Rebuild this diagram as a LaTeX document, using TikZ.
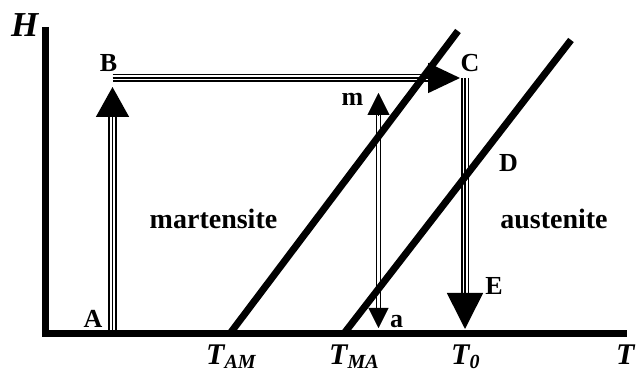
\documentclass[tikz,border=0pt]{standalone}
\usepackage{fontspec}
\setmainfont{Liberation Serif}
\usepackage{tikz}
\usetikzlibrary{arrows.meta,calc}
\newcommand\Tsub[1]{T\raisebox{-4pt}{\fontsize{20}{20}\selectfont #1}}

\begin{document}
\begin{tikzpicture}[
  x=1pt, y=-1pt,
  lbl/.style={font=\fontsize{26}{26}\selectfont\bfseries, inner sep=0pt},
  phase/.style={font=\fontsize{28}{28}\selectfont\bfseries, inner sep=0pt},
  ax/.style={font=\fontsize{30}{30}\selectfont\bfseries\itshape, inner sep=0pt, anchor=base west},
  axisline/.style={line width=7pt, line join=miter},
  bound/.style={line width=7pt},
  rail/.style={line width=8.5pt, postaction={draw=white, line width=5pt}},
  core/.style={line width=1.6pt},
  dbl/.style={double, double distance=2.2pt, line width=1pt},
  tip/.style={line width=0.4pt, -{Triangle[length=#1,width=#1]}},
]
\useasboundingbox (0,0) rectangle (638,374);

% axes
\coordinate (top) at (45.5,27);
\coordinate (O) at (45.5,333.5);
\coordinate (right) at (627,333.5);
\draw[axisline] (top) -- (O) -- (right);

% path A -> B -> C -> E
\coordinate (A) at (112.5,330);
\coordinate (Ab) at (112.5,115);
\coordinate (At) at (112.5,87);
\coordinate (B) at (112.5,78);
\coordinate (Cb) at (429,78);
\coordinate (Ct) at (460,78);
\coordinate (C) at (465,78);
\coordinate (Eb) at (465,295);
\coordinate (E) at (465,329);
\draw[rail] (A) -- (Ab);
\draw[core, -{Triangle[length=30pt,width=33pt]}] (A) -- (At);
\draw[rail] (B) -- (Cb);
\draw[core, -{Triangle[length=32pt,width=30pt]}] (B) -- (Ct);
\draw[rail] (C) -- (Eb);
\draw[core, -{Triangle[length=36pt,width=36pt]}] (C) -- (E);

% path m <-> a
\coordinate (m) at (378.5,93);
\coordinate (mb) at (378.5,115);
\coordinate (a) at (378.5,328);
\coordinate (ab) at (378.5,308);
\draw[dbl] (ab) -- (mb);
\draw[tip=22pt] (mb) -- (m);
\draw[tip=20pt] (ab) -- (a);

% phase boundaries
\coordinate (TAM) at (230,333.5);
\coordinate (TAMtop) at (458,31);
\coordinate (TMA) at (344,333.5);
\coordinate (TMAtop) at (571,40);
\draw[bound] (TAM) -- (TAMtop);
\draw[bound] (TMA) -- (TMAtop);

% labels
\node[lbl] (lblA) at (93,319) {A};
\node[lbl] (lblB) at (108.5,63.5) {B};
\node[lbl] (lblC) at (470,63.5) {C};
\node[lbl] (lblD) at (508.5,163.5) {D};
\node[lbl] (lblE) at (494,286) {E};
\node[lbl] (lblm) at (352.5,99) {m};
\node[lbl] (lbla) at (396.5,321.5) {a};
\node[phase, anchor=base] (mart) at (213.5,229) {martensite};
\node[phase, anchor=base] (aust) at (554,229) {austenite};
\node[ax, font=\fontsize{35}{35}\selectfont\bfseries\itshape] (lblH) at (11,37) {H};
\node[ax] (lblTAM) at (206,365) {\Tsub{AM}};
\node[ax] (lblTMA) at (329,365) {\Tsub{MA}};
\node[ax] (lblT0) at (451,365) {\Tsub{0}};
\node[ax] (lblT) at (616,365) {T};
\end{tikzpicture}
\end{document}
